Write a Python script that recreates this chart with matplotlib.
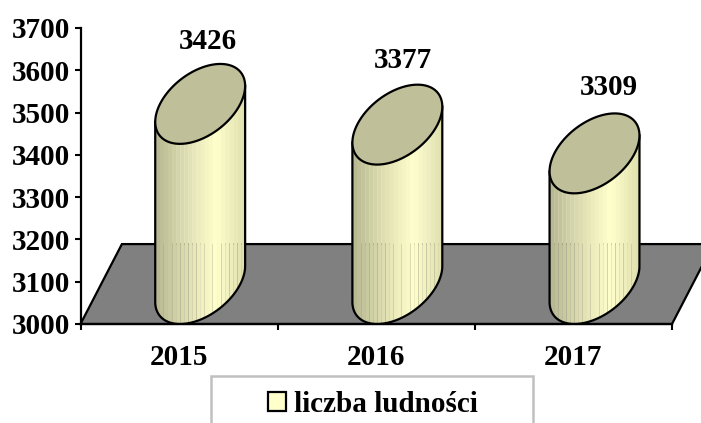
import numpy as np
import matplotlib
matplotlib.use("Agg")
import matplotlib.pyplot as plt
from matplotlib.patches import Patch, Rectangle, Polygon

years = ["2015", "2016", "2017"]
population = [3426, 3377, 3309]
yticks = [3000, 3100, 3200, 3300, 3400, 3500, 3600, 3700]
series_name = "liczba ludności"

# 3d look of the cylinders, in data units
center_shift = 0.607
half_width = 0.228
cap_tilt = 42.5
cap_open = 84.4
cap_half = 94.5
floor_top = 3189
floor_shift = 0.21
n_strips = 22
label_dx = [0.038, 0.03, 0.075]
label_dy = [52, 58, 61]

plt.rcParams["font.family"] = ["Liberation Serif", "DejaVu Serif"]
plt.rcParams["font.weight"] = "bold"

fig = plt.figure(figsize=(7.01, 4.23), dpi=100)
ax = fig.add_axes([80.5 / 701, (423 - 324) / 423, (672 - 80.5) / 701, (324 - 28) / 423])
ax.set_xlim(0, 3)
ax.set_ylim(3000, 3700)


def ellipse(cx, cy, t):
    return cx + half_width * np.cos(t), cy + cap_open * np.sin(t) + cap_tilt * np.cos(t)


def strip_color(f):
    # dark on the left, brightest at about 70%, a bit darker on the right
    dark = np.array([0xB8, 0xB8, 0x92]) / 255
    light = np.array([0xFF, 0xFF, 0xCC]) / 255
    edge = np.array([0xE0, 0xE0, 0xB0]) / 255
    if f < 0.68:
        return dark + (light - dark) * (f / 0.68) ** 0.9
    return light + (edge - light) * ((f - 0.68) / 0.32)


floor = Polygon([(0, 3000), (floor_shift, floor_top), (3 + floor_shift, floor_top), (3, 3000)],
                closed=True, facecolor="#808080", edgecolor="black", linewidth=1.6,
                clip_on=False, zorder=1)
ax.add_patch(floor)

for i, val in enumerate(population):
    cx = i + center_shift
    bottom_cy = 3000 + cap_half
    top_cy = val + cap_half

    # body as vertical strips
    edges = np.linspace(cx - half_width, cx + half_width, n_strips + 1)
    for j in range(n_strips):
        xs = np.linspace(edges[j], edges[j + 1] + 0.001, 6)
        cos_t = np.clip((xs - cx) / half_width, -1, 1)
        t = -np.arccos(cos_t)
        low = bottom_cy + cap_open * np.sin(t) + cap_tilt * cos_t
        high = top_cy + cap_tilt * cos_t
        ax.fill_between(xs, low, high, color=strip_color(j / (n_strips - 1)), linewidth=0, zorder=2)
        if j % 2 == 1:
            ax.plot([edges[j + 1]] * 2, [low[-1], floor_top], color="#9a9a88", alpha=0.35,
                    linewidth=0.6, zorder=2.5)

    # outline
    t = np.linspace(np.pi, 2 * np.pi, 80)
    bx, by = ellipse(cx, bottom_cy, t)
    ax.plot(np.r_[bx[0], bx, bx[-1]], np.r_[top_cy - cap_tilt, by, top_cy + cap_tilt],
            color="black", linewidth=1.6, zorder=3, solid_joinstyle="round")

    # top cap
    t = np.linspace(0, 2 * np.pi, 120)
    tx, ty = ellipse(cx, top_cy, t)
    ax.fill(tx, ty, facecolor="#BFBF99", edgecolor="black", linewidth=1.6, zorder=4)

    ax.text(cx + label_dx[i], top_cy + cap_half + label_dy[i], str(val), ha="center", va="center",
            fontsize=21, fontweight="bold", clip_on=False)

for side in ["top", "right"]:
    ax.spines[side].set_visible(False)
for side in ["left", "bottom"]:
    ax.spines[side].set_linewidth(1.6)
    ax.spines[side].set_zorder(5)

ax.set_yticks(yticks)
ax.tick_params(axis="y", length=4, width=1.5, pad=3.3, labelsize=21)
ax.set_xticks([0, 1, 2, 3])
ax.set_xticklabels([])
ax.tick_params(axis="x", which="major", length=4, width=1.5)
ax.set_xticks([0.5, 1.5, 2.5], minor=True)
ax.set_xticklabels(years, minor=True)
ax.tick_params(axis="x", which="minor", length=0, pad=14.5, labelsize=21)

# legend frame runs off the bottom of the picture
fig.add_artist(Rectangle((210.5 / 701, -10 / 423), 322 / 701, (423 - 376 + 10) / 423,
                         transform=fig.transFigure, facecolor="white",
                         edgecolor="#C0C0C0", linewidth=1.8))
handle = Patch(facecolor="#FFFFCC", edgecolor="black", linewidth=1.6, label=series_name)
leg = fig.legend(handles=[handle], loc="upper left", bbox_to_anchor=(268 / 701, (423 - 391) / 423),
                 frameon=False, borderpad=0, borderaxespad=0, handlelength=0.63, handleheight=0.63,
                 handletextpad=0.25, fontsize=21)

fig.savefig("out.png", dpi=100)
